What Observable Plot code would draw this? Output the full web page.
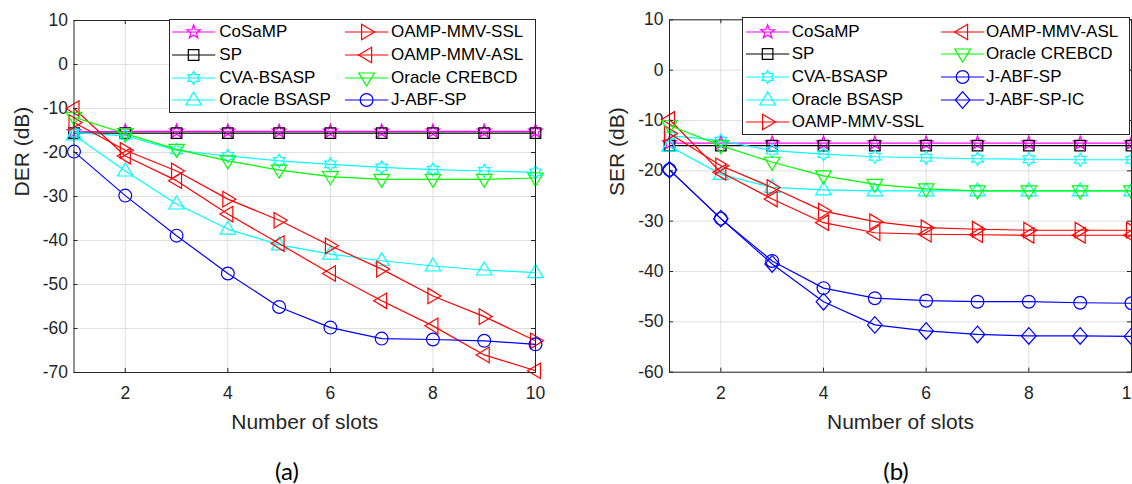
<!DOCTYPE html>
<html><head><meta charset="utf-8">
<script src="https://cdn.jsdelivr.net/npm/d3@7"></script>
<script src="https://cdn.jsdelivr.net/npm/@observablehq/plot@0.6"></script>
<style>
html,body{margin:0;padding:0;background:#fff;overflow:hidden}
#root{position:relative;width:1132px;height:484px;overflow:hidden;background:#fff}
.panel{position:absolute;top:0}
.cap{position:absolute;font-family:Lato,'Open Sans',sans-serif;font-size:24px;color:#000;transform:translate(-50%,-50%);white-space:nowrap}
.legend{position:absolute;border:1px solid #262626;background:#fff;box-sizing:border-box;z-index:2}
.legend span{position:absolute;font-family:'Liberation Sans',Arial,sans-serif;font-size:17px;line-height:20px;color:#000;white-space:nowrap}
</style>
</head><body><div id="root"></div>
<script>
// ---------------- data ----------------
const slots = [1, 2, 3, 4, 5, 6, 7, 8, 9, 10];
const xTicks = [2, 4, 6, 8, 10];
const derTicks = [10, 0, -10, -20, -30, -40, -50, -60, -70];
const serTicks = [10, 0, -10, -20, -30, -40, -50, -60];
const xLabel = "Number of slots";
const derLabel = "DER (dB)";
const serLabel = "SER (dB)";
const panelTags = ["(a)", "(b)"];

const seriesNames = ["CoSaMP", "SP", "CVA-BSASP", "Oracle BSASP", "OAMP-MMV-SSL", "OAMP-MMV-ASL", "Oracle CREBCD", "J-ABF-SP", "J-ABF-SP-IC"];
const seriesColors = ["#ff00ff", "#000000", "#00ffff", "#00ffff", "#ff0000", "#ff0000", "#00ff00", "#0000ff", "#0000ff"];
const seriesMarkers = ["pentagram", "square", "hexagram", "triangleUp", "triangleRight", "triangleLeft", "triangleDown", "circle", "diamond"];

// (a) DER
const derCoSaMP   = [-15.3, -15.2, -15.2, -15.2, -15.2, -15.2, -15.2, -15.2, -15.2, -15.2];
const derSP       = [-15.6, -15.6, -15.6, -15.6, -15.6, -15.6, -15.6, -15.6, -15.6, -15.6];
const derCVA      = [-15.5, -16.2, -19.5, -20.8, -21.9, -22.7, -23.4, -23.9, -24.2, -24.5];
const derOracleBS = [-16.0, -24.2, -31.7, -37.4, -41.0, -43.1, -44.6, -45.8, -46.7, -47.3];
const derSSL      = [-13.2, -19.5, -24.2, -30.6, -35.4, -41.2, -46.5, -52.6, -57.3, -62.8];
const derASL      = [-10.0, -20.8, -26.4, -34.0, -40.7, -47.5, -53.7, -59.4, -66.0, -69.6];
const derCREBCD   = [-12.0, -15.7, -19.3, -21.9, -24.0, -25.5, -26.1, -26.1, -26.1, -25.8];
const derJABF     = [-19.8, -29.8, -38.9, -47.5, -55.1, -59.8, -62.3, -62.5, -62.8, -63.6];

// (b) SER
const serCoSaMP   = [-14.5, -14.5, -14.5, -14.5, -14.5, -14.5, -14.5, -14.5, -14.5, -14.5];
const serSP       = [-15.0, -15.0, -15.0, -15.0, -15.0, -15.0, -15.0, -15.0, -15.0, -15.0];
const serCVA      = [-13.0, -14.0, -16.0, -16.7, -17.2, -17.4, -17.6, -17.7, -17.8, -17.8];
const serOracleBS = [-15.1, -20.7, -23.3, -23.8, -24.0, -24.0, -24.0, -24.0, -24.0, -24.0];
const serSSL      = [-12.6, -19.0, -23.3, -28.0, -30.1, -31.3, -31.6, -31.8, -31.8, -31.8];
const serASL      = [-9.8, -20.3, -25.6, -30.3, -32.3, -32.6, -32.7, -32.8, -32.8, -32.8];
const serCREBCD   = [-11.0, -15.0, -18.3, -21.0, -22.7, -23.6, -24.0, -24.0, -24.0, -24.0];
const serJABF     = [-19.8, -29.5, -37.9, -43.3, -45.3, -45.8, -46.0, -46.0, -46.2, -46.3];
const serJABFIC   = [-19.8, -29.5, -38.5, -46.0, -50.6, -51.8, -52.5, -52.8, -52.8, -52.9];

const derValues = [derCoSaMP, derSP, derCVA, derOracleBS, derSSL, derASL, derCREBCD, derJABF];
const serValues = [serCoSaMP, serSP, serCVA, serOracleBS, serSSL, serASL, serCREBCD, serJABF, serJABFIC];

// ---------------- marker shapes ----------------
function polySymbol(pts) {
  return {
    draw(ctx, size) {
      const k = Math.sqrt(size / Math.PI) / 6.5;
      ctx.moveTo(pts[0][0] * k, pts[0][1] * k);
      for (let i = 1; i < pts.length; i++) ctx.lineTo(pts[i][0] * k, pts[i][1] * k);
      ctx.closePath();
    }
  };
}
function starPts(n, ro, ri) {
  const p = [];
  for (let i = 0; i < 2 * n; i++) {
    const a = -Math.PI / 2 + i * Math.PI / n, r = i % 2 ? ri : ro;
    p.push([r * Math.cos(a), r * Math.sin(a)]);
  }
  return p;
}
const symbols = {
  circle: { draw(ctx, size) { const r = Math.sqrt(size / Math.PI) * 6.4 / 6.5; ctx.moveTo(r, 0); ctx.arc(0, 0, r, 0, 2 * Math.PI); } },
  square: polySymbol([[-5.3, -5.3], [5.3, -5.3], [5.3, 5.3], [-5.3, 5.3]]),
  triangleUp: polySymbol([[0, -8], [7.8, 5], [-7.8, 5]]),
  triangleDown: polySymbol([[0, 8], [7.8, -5], [-7.8, -5]]),
  triangleRight: polySymbol([[8, 0], [-5, -7.8], [-5, 7.8]]),
  triangleLeft: polySymbol([[-8, 0], [5, -7.8], [5, 7.8]]),
  diamond: polySymbol([[0, -8.3], [7.3, 0], [0, 8.3], [-7.3, 0]]),
  pentagram: polySymbol(starPts(5, 7.2, 2.9)),
  hexagram: polySymbol(starPts(6, 6.6, 3.8))
};

const gridColor = "#dfdfdf";
const axisColor = "#262626";
const lineW = 1.2;

function makeSeries(values) {
  return values.map((v, i) => ({ name: seriesNames[i], color: seriesColors[i], marker: seriesMarkers[i], values: v }));
}

function panel({ series, yTicks, yDomain, yLabel, width, height, mt, mr, mb, ml }) {
  const H = height - mt - mb, W = width - ml - mr;
  const marks = [
    Plot.ruleX(xTicks, { stroke: gridColor }),
    Plot.ruleY(yTicks, { stroke: gridColor })
  ];
  for (const s of series) {
    const rows = slots.map((x, i) => ({ x, y: s.values[i] }));
    marks.push(Plot.line(rows, { x: "x", y: "y", stroke: s.color, strokeWidth: lineW }));
    marks.push(Plot.dot(rows, { x: "x", y: "y", stroke: s.color, fill: "none", symbol: symbols[s.marker], r: 6.5, strokeWidth: lineW }));
  }
  marks.push(
    Plot.ruleX(xTicks, { stroke: axisColor, insetTop: H - 4 }),
    Plot.ruleX(xTicks, { stroke: axisColor, insetBottom: H - 4 }),
    Plot.ruleY(yTicks, { stroke: axisColor, insetRight: W - 4 }),
    Plot.ruleY(yTicks, { stroke: axisColor, insetLeft: W - 4 }),
    Plot.frame({ stroke: axisColor, strokeWidth: 1 }),
    Plot.text([xLabel], { text: d => d, frameAnchor: "bottom", dy: 42, lineAnchor: "top", fontSize: 21, fill: axisColor }),
    Plot.text([yLabel], { text: d => d, frameAnchor: "left", rotate: -90, dx: -60, lineAnchor: "top", fontSize: 21, fill: axisColor })
  );
  return Plot.plot({
    width, height, marginTop: mt, marginRight: mr, marginBottom: mb, marginLeft: ml,
    x: { domain: [1, 10], ticks: xTicks, tickSize: 0, tickPadding: 14, tickFormat: d => String(d), label: null },
    y: { domain: yDomain, ticks: yTicks, tickSize: 0, tickPadding: 6, tickFormat: d => String(d), label: null },
    style: { fontFamily: "'Liberation Sans', Arial, sans-serif", fontSize: "17.5px", color: axisColor, background: "transparent", overflow: "visible", maxWidth: "none" },
    marks
  });
}

function legend(root, box, series, rows, rowY0, rowStep, cols) {
  const div = document.createElement("div");
  div.className = "legend";
  Object.assign(div.style, { left: box.left + "px", top: box.top + "px", width: box.width + "px", height: box.height + "px" });
  series.forEach((s, i) => {
    const c = Math.floor(i / rows), r = i % rows;
    const cy = rowY0 + r * rowStep;
    const svg = d3.create("svg").attr("width", 46).attr("height", 24)
      .style("position", "absolute").style("left", cols[c].lineX + "px").style("top", (cy - 12) + "px").style("overflow", "visible");
    svg.append("line").attr("x1", 0).attr("x2", 43.3).attr("y1", 12).attr("y2", 12).attr("stroke", s.color).attr("stroke-width", lineW);
    svg.append("path").attr("transform", "translate(21.6,12)")
      .attr("d", d3.symbol(symbols[s.marker], Math.PI * 6.5 * 6.5)())
      .attr("fill", "none").attr("stroke", s.color).attr("stroke-width", lineW);
    div.appendChild(svg.node());
    const t = document.createElement("span");
    t.textContent = s.name;
    t.style.left = cols[c].textX + "px";
    t.style.top = (cy - 10) + "px";
    div.appendChild(t);
  });
  root.appendChild(div);
}

const root = document.getElementById("root");
const seriesA = makeSeries(derValues);
const seriesB = makeSeries(serValues);

const pa = panel({ series: seriesA, yTicks: derTicks, yDomain: [-70, 10], yLabel: derLabel, width: 566, height: 440, mt: 20, mr: 31, mb: 68, ml: 73.5 });
pa.classList.add("panel"); pa.style.left = "0px";
root.appendChild(pa);

const pb = panel({ series: seriesB, yTicks: serTicks, yDomain: [-60, 10], yLabel: serLabel, width: 566, height: 440, mt: 19.3, mr: 1, mb: 68.3, ml: 103 });
pb.classList.add("panel"); pb.style.left = "566px";
root.appendChild(pb);

legend(root, { left: 168.5, top: 19, width: 367, height: 93.5 }, seriesA, 4, 12.3, 22.6,
  [{ lineX: 2.2, textX: 49.8 }, { lineX: 175.5, textX: 221.5 }]);
legend(root, { left: 741.7, top: 17.3, width: 388.3, height: 118 }, seriesB, 5, 13.4, 22.7,
  [{ lineX: 3.3, textX: 49 }, { lineX: 198, textX: 243.3 }]);

panelTags.forEach((tag, i) => {
  const d = document.createElement("div");
  d.className = "cap";
  d.textContent = tag;
  d.style.left = (i === 0 ? 287 : 896) + "px";
  d.style.top = "470px";
  root.appendChild(d);
});
</script>
</body></html>
